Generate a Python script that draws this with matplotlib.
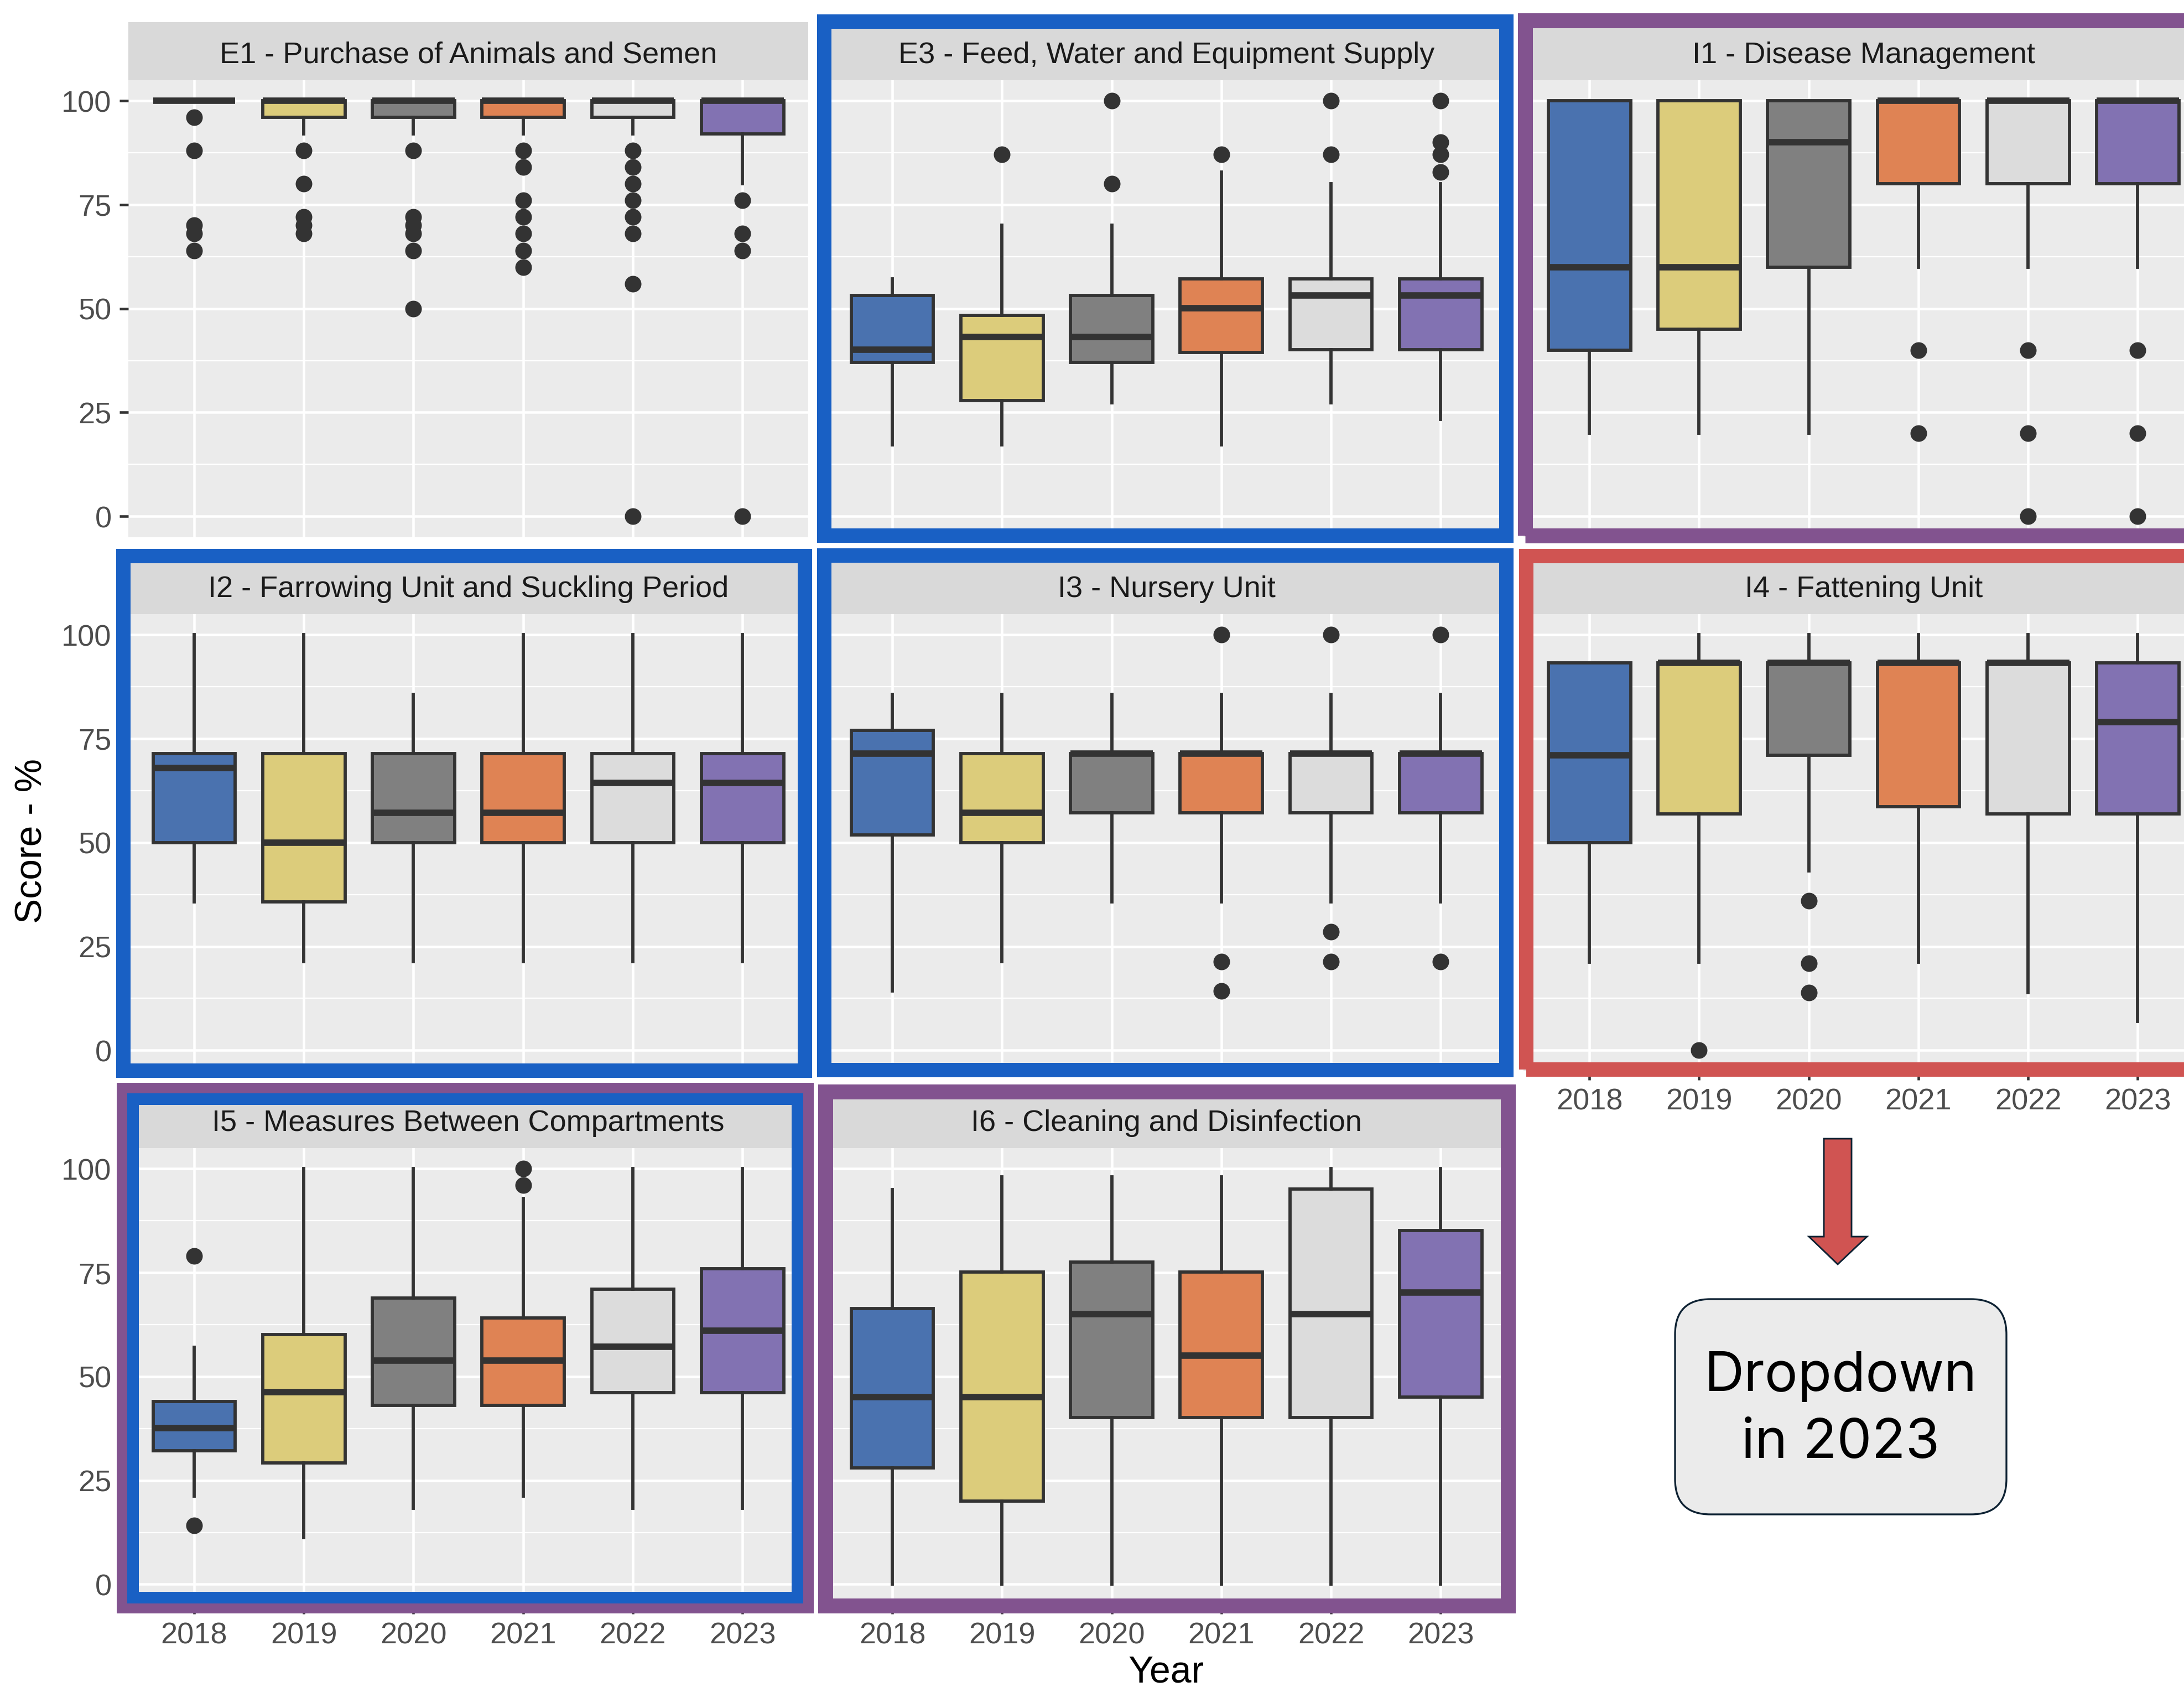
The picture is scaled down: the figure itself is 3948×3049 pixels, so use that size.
import matplotlib
matplotlib.use('Agg')
import matplotlib.pyplot as plt
from matplotlib.patches import Rectangle, FancyBboxPatch, Polygon

# ----------------------------- datos -----------------------------
years = ['2018', '2019', '2020', '2021', '2022', '2023']
box_colors = ['#4A72AF', '#DCCC7B', '#808080', '#DF8354', '#DCDCDC', '#8272B2']

titles = ['E1 - Purchase of Animals and Semen',
          'E3 - Feed, Water and Equipment Supply',
          'I1 - Disease Management',
          'I2 - Farrowing Unit and Suckling Period',
          'I3 - Nursery Unit',
          'I4 - Fattening Unit',
          'I5 - Measures Between Compartments',
          'I6 - Cleaning and Disinfection']

# [bigote inferior, Q1, mediana, Q3, bigote superior] por año
e1_stats = [[100, 100, 100, 100, 100],
            [92, 96, 100, 100, 100],
            [92, 96, 100, 100, 100],
            [92, 96, 100, 100, 100],
            [92, 96, 100, 100, 100],
            [80, 92, 100, 100, 100]]
e1_out = [[96, 88, 70, 68, 64],
          [88, 80, 72, 70, 68],
          [88, 72, 70, 68, 64, 50],
          [88, 84, 76, 72, 68, 64, 60],
          [88, 84, 80, 76, 72, 68, 56, 0],
          [76, 68, 64, 0]]

e3_stats = [[17.2, 37.1, 40.1, 53.2, 57.1],
            [17.2, 27.8, 43.1, 48.4, 70.0],
            [27.3, 37.1, 43.1, 53.2, 70.0],
            [17.2, 39.5, 50.1, 57.1, 82.9],
            [27.3, 40.1, 53.2, 57.1, 80.1],
            [23.3, 40.1, 53.2, 57.1, 80.1]]
e3_out = [[], [87.1], [100, 80.1], [87.1], [100, 87.1], [100, 90.1, 87.1, 82.9]]

i1_stats = [[20, 40, 60, 100, 100],
            [20, 45, 60, 100, 100],
            [20, 60, 90, 100, 100],
            [60, 80, 100, 100, 100],
            [60, 80, 100, 100, 100],
            [60, 80, 100, 100, 100]]
i1_out = [[], [], [], [40, 20], [40, 20, 0], [40, 20, 0]]

i2_stats = [[35.7, 50, 67.9, 71.4, 100],
            [21.4, 35.7, 50, 71.4, 100],
            [21.4, 50, 57.1, 71.4, 85.7],
            [21.4, 50, 57.1, 71.4, 100],
            [21.4, 50, 64.3, 71.4, 100],
            [21.4, 50, 64.3, 71.4, 100]]
i2_out = [[], [], [], [], [], []]

i3_stats = [[14.3, 51.8, 71.4, 77.0, 85.7],
            [21.4, 50, 57.1, 71.4, 85.7],
            [35.7, 57.1, 71.4, 71.4, 85.7],
            [35.7, 57.1, 71.4, 71.4, 85.7],
            [35.7, 57.1, 71.4, 71.4, 85.7],
            [35.7, 57.1, 71.4, 71.4, 85.7]]
i3_out = [[], [], [], [100, 21.4, 14.3], [100, 28.6, 21.4], [100, 21.4]]

i4_stats = [[21.2, 50, 71.0, 93.3, 93.3],
            [21.2, 56.9, 93.3, 93.3, 100],
            [43.2, 71.0, 93.3, 93.3, 100],
            [21.2, 58.6, 93.3, 93.3, 100],
            [13.9, 56.9, 93.3, 93.3, 100],
            [6.9, 56.9, 79.0, 93.3, 100]]
i4_out = [[], [0], [36.0, 21.0, 13.9], [], [], []]

i5_stats = [[21.2, 32.1, 37.6, 44.0, 57.0],
            [11.2, 29.2, 46.2, 60.1, 100],
            [18.3, 43.0, 53.9, 68.9, 100],
            [21.2, 43.0, 53.9, 64.1, 92.9],
            [18.3, 46.1, 57.2, 71.0, 100],
            [18.3, 46.1, 61.1, 76.0, 100]]
i5_out = [[79.0, 14.2], [], [], [100, 96.0], [], []]

i6_stats = [[0, 28.0, 45.1, 66.4, 95.0],
            [0, 20.0, 45.1, 75.1, 98.0],
            [0, 40.2, 65.1, 77.6, 98.0],
            [0, 40.2, 55.1, 75.1, 98.0],
            [0, 40.2, 65.1, 95.1, 100],
            [0, 45.1, 70.2, 85.1, 100]]
i6_out = [[], [], [], [], [], []]

# ----------------------------- figura -----------------------------
W, H = 3948, 3049
DPI = 300
fig = plt.figure(figsize=(3948.4 / DPI, 3049.4 / DPI), dpi=DPI)
fig.patch.set_facecolor('white')
plt.rcParams['font.family'] = ['Liberation Sans', 'DejaVu Sans']


def P(x, y):
    # pixeles (origen arriba a la izquierda) -> pulgadas
    return (x / DPI, (H - y) / DPI)


col_left = [232, 1494, 2754]
row_top = [145, 1110, 2075]
PW, PH, SH = 1229, 826, 105

paneles = [(e1_stats, e1_out, 0, 0), (e3_stats, e3_out, 0, 1), (i1_stats, i1_out, 0, 2),
           (i2_stats, i2_out, 1, 0), (i3_stats, i3_out, 1, 1), (i4_stats, i4_out, 1, 2),
           (i5_stats, i5_out, 2, 0), (i6_stats, i6_out, 2, 1)]

con_eje_x = [(2, 0), (2, 1), (1, 2)]

for k, (stats, outs, r, c) in enumerate(paneles):
    x0 = col_left[c]
    y0 = row_top[r]
    ax = fig.add_axes([x0 / W, 1 - (y0 + PH) / H, PW / W, PH / H])
    ax.set_facecolor('#EBEBEB')
    ax.set_axisbelow(True)

    bstats = []
    for s, o in zip(stats, outs):
        bstats.append(dict(whislo=s[0], q1=s[1], med=s[2], q3=s[3], whishi=s[4], fliers=o))
    bp = ax.bxp(bstats, positions=range(1, 7), widths=0.75, patch_artist=True,
                showcaps=False,
                boxprops=dict(edgecolor='#333333', linewidth=1.4),
                whiskerprops=dict(color='#333333', linewidth=1.4),
                medianprops=dict(color='#333333', linewidth=2.8, solid_capstyle='butt'),
                flierprops=dict(marker='o', markerfacecolor='#333333',
                                markeredgecolor='#333333', markersize=6.2, linestyle='none'))
    for patch, col in zip(bp['boxes'], box_colors):
        patch.set_facecolor(col)

    ax.set_xlim(0.4, 6.6)
    ax.set_ylim(-5, 105)
    ax.set_xticks(range(1, 7))
    ax.set_xticklabels(years)
    ax.set_yticks([0, 25, 50, 75, 100])
    ax.set_yticks([12.5, 37.5, 62.5, 87.5], minor=True)
    ax.grid(which='major', color='white', linewidth=1.1)
    ax.grid(which='minor', axis='y', color='white', linewidth=0.55)
    for sp in ax.spines.values():
        sp.set_visible(False)
    ax.tick_params(which='major', length=3.9, width=1.1, color='#333333',
                   labelsize=13, labelcolor='#4D4D4D', pad=3.4)
    ax.tick_params(which='minor', left=False, bottom=False)
    if c != 0:
        ax.tick_params(left=False, labelleft=False)
    if (r, c) not in con_eje_x:
        ax.tick_params(bottom=False, labelbottom=False)

    # tira del titulo
    sax = fig.add_axes([x0 / W, 1 - y0 / H, PW / W, SH / H])
    sax.set_facecolor('#D9D9D9')
    sax.set_xticks([])
    sax.set_yticks([])
    for sp in sax.spines.values():
        sp.set_visible(False)
    sax.text(0.5, 0.30, titles[k], ha='center', va='baseline', fontsize=13, color='#1A1A1A')

fig.text(57 / W, 1 - 1520 / H, 'Score - %', rotation=90, ha='center', va='center',
         fontsize=16.3, color='black')
fig.text(2108 / W, 1 - 3022 / H, 'Year', ha='center', va='center', fontsize=16.3, color='black')

# ----------------------------- marcos -----------------------------
AZUL = '#1960C4'
MORADO = '#82538F'
ROJO = '#D05452'


def marco(x0, y0, x1, y1, t, color):
    xa, ya = P(x0 + t / 2, y1 - t / 2)
    w = (x1 - x0 - t) / DPI
    h = (y1 - y0 - t) / DPI
    rect = Rectangle((xa, ya), w, h, fill=False, edgecolor=color, linewidth=t * 72 / DPI,
                     joinstyle='miter', transform=fig.dpi_scale_trans, zorder=10)
    fig.add_artist(rect)


marco(1477, 26, 2736, 981, 26, AZUL)
marco(2743, 24, 3990, 981, 27, MORADO)
marco(210, 992, 1468, 1948, 26, AZUL)
marco(1477, 991, 2736, 1947, 26, AZUL)
marco(2746, 992, 3990, 1946, 26, ROJO)
marco(210, 1956, 1470, 2915, 19, MORADO)
marco(229, 1975, 1452, 2897, 21, AZUL)
marco(1478, 1959, 2739, 2915, 27, MORADO)

# ----------------------------- flecha y caja -----------------------------
flecha = [P(3297, 2058), P(3347, 2058), P(3347, 2235), P(3375, 2235),
          P(3322, 2285), P(3270, 2235), P(3297, 2235)]
fig.add_artist(Polygon(flecha, closed=True, facecolor=ROJO, edgecolor='#0E2233',
                       linewidth=0.7, transform=fig.dpi_scale_trans, zorder=10))

bx, by = P(3028, 2737)
caja = FancyBboxPatch((bx, by), (3627 - 3028) / DPI, (2737 - 2348) / DPI,
                      boxstyle='round,pad=0,rounding_size=%f' % (64 / DPI),
                      facecolor='#EBEBEB', edgecolor='#0E2233', linewidth=0.8,
                      transform=fig.dpi_scale_trans, zorder=10)
fig.add_artist(caja)
tx, ty = P(3327, 2548)
fig.text(tx / (W / DPI), ty / (H / DPI), 'Dropdown\nin 2023', ha='center', va='center',
         fontsize=24, linespacing=1.4, color='black', family=['Inter', 'DejaVu Sans'],
         zorder=11)

fig.savefig('out.png', dpi=DPI, facecolor='white')
